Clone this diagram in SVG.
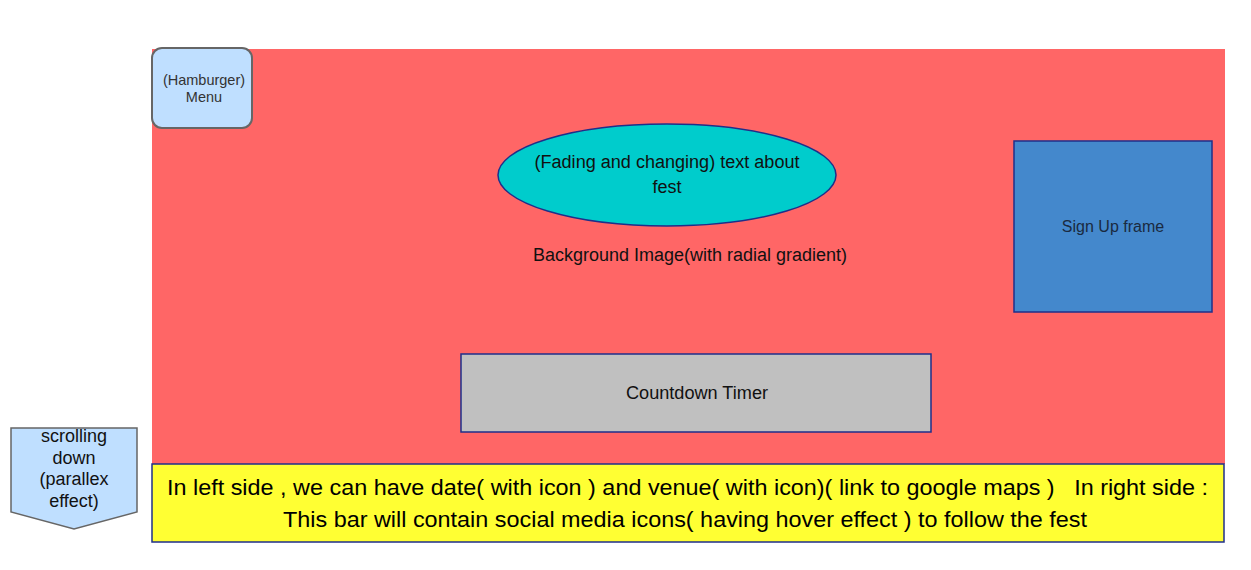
<svg xmlns="http://www.w3.org/2000/svg" width="1251" height="570" viewBox="0 0 1251 570">
<style>
text{font-family:"Liberation Sans",Arial,sans-serif;text-anchor:middle;dominant-baseline:central}
.n{stroke:#1f2f8a;stroke-width:1.5}
.t18{font-size:18px;fill:#111}
</style>
<rect width="1251" height="570" fill="#fff"/>
<g id="background">
<rect x="152" y="49" width="1073" height="415" fill="#ff6666"/>
<text class="t18" x="690" y="255" textLength="314" lengthAdjust="spacingAndGlyphs">Background Image(with radial gradient)</text>
</g>
<g id="menu">
<rect x="152" y="48" width="100" height="80" rx="10" fill="#bfdfff" stroke="#666" stroke-width="2"/>
<text x="204" y="80" font-size="14.5" fill="#333">(Hamburger)</text>
<text x="204" y="97" font-size="14.5" fill="#333">Menu</text>
</g>
<g id="fest-text">
<ellipse cx="667" cy="175" rx="169" ry="51" fill="#00cccc" class="n"/>
<text class="t18" x="667" y="162" textLength="265" lengthAdjust="spacingAndGlyphs">(Fading and changing) text about</text>
<text class="t18" x="667" y="187">fest</text>
</g>
<g id="signup">
<rect x="1014" y="141" width="198" height="171" fill="#4488cc" class="n"/>
<text x="1113" y="226" font-size="16" fill="#1a2a40">Sign Up frame</text>
</g>
<g id="countdown">
<rect x="461" y="354" width="470" height="78" fill="#c0c0c0" class="n"/>
<text class="t18" x="697" y="393" textLength="142" lengthAdjust="spacingAndGlyphs">Countdown Timer</text>
</g>
<g id="footer">
<rect x="152" y="464" width="1072" height="78" fill="#ffff33" class="n"/>
<text x="687.5" y="487" font-size="22" fill="#000" xml:space="preserve" textLength="1041" lengthAdjust="spacingAndGlyphs">In left side , we can have date( with icon ) and venue( with icon)( link to google maps )   In right side :</text>
<text x="685" y="519" font-size="22" fill="#000" textLength="804" lengthAdjust="spacingAndGlyphs">This bar will contain social media icons( having hover effect ) to follow the fest</text>
</g>
<g id="scroll">
<polygon points="11,428 137,428 137,512 74,529 11,512" fill="#bfdfff" stroke="#666" stroke-width="1.5"/>
<text class="t18" x="74" y="436">scrolling</text>
<text class="t18" x="74" y="457.5">down</text>
<text class="t18" x="74" y="479">(parallex</text>
<text class="t18" x="74" y="500.5">effect)</text>
</g>
<g id="connectors"></g>
</svg>
